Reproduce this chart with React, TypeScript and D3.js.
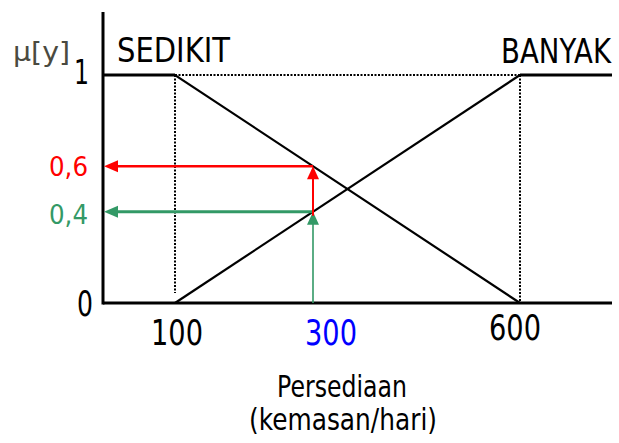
import React from "react";
import * as d3 from "d3";

const xTicks = [100, 300, 600];
const xTickLabels = ["100", "300", "600"];
const sedikitPts: [number, number][] = [[0, 1], [100, 1], [600, 0]];
const banyakPts: [number, number][] = [[100, 0], [600, 1], [730, 1]];
const inputX = 300;
const muSedikit = 0.6;
const muBanyak = 0.4;
const muLabels = ["0,6", "0,4"];

const W = 619, H = 443;
const FONT = "'DejaVu Sans', Verdana, sans-serif";

export default function App() {
  const x = d3.scaleLinear().domain([100, 600]).range([175, 520]);
  const y = d3.scaleLinear().domain([0, 1]).range([303, 75]);
  const axisX = 103;
  const axisRight = 612;
  const line = d3.line<[number, number]>().x(d => Math.max(axisX, Math.min(axisRight, x(d[0])))).y(d => y(d[1]));
  const red = "#ff0000";
  const green = "#339966";

  const arrowUp = (cx: number, cy: number) =>
    `M${cx},${cy} L${cx - 6},${cy + 13} L${cx + 6},${cy + 13} Z`;
  const arrowLeft = (cx: number, cy: number) =>
    `M${cx},${cy} L${cx + 14},${cy - 6} L${cx + 14},${cy + 6} Z`;

  const xi = x(inputX);
  const yr = y(muSedikit);
  const yg = y(muBanyak);

  return (
    <svg width={W} height={H} style={{ position: "absolute", left: 0, top: 0, background: "#fff" }}>
      <rect width={W} height={H} fill="#fff" />
      {/* dotted guides */}
      <line x1={x(100)} x2={x(600)} y1={y(1)} y2={y(1)} stroke="#000" strokeWidth={2} strokeDasharray="2,1.5" />
      <line x1={x(100)} x2={x(100)} y1={y(1)} y2={y(0) - 10} stroke="#000" strokeWidth={2} strokeDasharray="2,1.5" />
      <line x1={x(600)} x2={x(600)} y1={y(1)} y2={y(0)} stroke="#000" strokeWidth={2} strokeDasharray="2,1.5" />
      {/* membership */}
      <path d={line(sedikitPts) || ""} fill="none" stroke="#000" strokeWidth={2.2} />
      <path d={line([banyakPts[0], banyakPts[1]]) || ""} fill="none" stroke="#000" strokeWidth={2.2} />
      <line x1={x(100)} x2={axisX} y1={y(1)} y2={y(1)} stroke="#000" strokeWidth={3} />
      <line x1={x(600)} x2={axisRight} y1={y(1)} y2={y(1)} stroke="#000" strokeWidth={3} />
      {/* axes */}
      <line x1={axisX} x2={axisX} y1={12} y2={y(0) + 1.5} stroke="#000" strokeWidth={3} />
      <line x1={axisX} x2={axisRight} y1={y(0)} y2={y(0)} stroke="#000" strokeWidth={3} />
      {/* green */}
      <line x1={xi} x2={xi} y1={y(0)} y2={yg + 10} stroke={green} strokeWidth={1.6} />
      <path d={arrowUp(xi, yg)} fill={green} />
      <line x1={xi} x2={axisX + 12} y1={yg} y2={yg} stroke={green} strokeWidth={3} />
      <path d={arrowLeft(axisX + 1, yg)} fill={green} />
      {/* red */}
      <line x1={xi} x2={xi} y1={yg + 4} y2={yr + 10} stroke={red} strokeWidth={2} />
      <path d={arrowUp(xi, yr)} fill={red} />
      <line x1={xi} x2={axisX + 12} y1={yr} y2={yr} stroke={red} strokeWidth={2.5} />
      <path d={arrowLeft(axisX + 1, yr)} fill={red} />
      {/* texts */}
      <g fontFamily={FONT}>
        <text x={13} y={61} fontSize={27} fill="#4a4a40" textLength={57} lengthAdjust="spacingAndGlyphs">μ[y]</text>
        <text x={74} y={84} fontSize={34} fill="#000" textLength={15} lengthAdjust="spacingAndGlyphs">1</text>
        <text x={117} y={62} fontSize={34} fill="#000" textLength={113} lengthAdjust="spacingAndGlyphs">SEDIKIT</text>
        <g transform="translate(611,63) scale(1,1.3)">
          <text x={0} y={0} fontSize={26} fill="#000" textAnchor="end" textLength={110} lengthAdjust="spacingAndGlyphs">BANYAK</text>
        </g>
        <text x={49} y={yr + 10} fontSize={27} fill={red} textLength={39} lengthAdjust="spacingAndGlyphs">{muLabels[0]}</text>
        <text x={49} y={yg + 12} fontSize={27} fill={green} textLength={39} lengthAdjust="spacingAndGlyphs">{muLabels[1]}</text>
        <text x={77} y={316} fontSize={35} fill="#000" textLength={16} lengthAdjust="spacingAndGlyphs">0</text>
        {xTicks.map((t, i) => (
          <text key={t} x={t === 300 ? 331 : t === 600 ? 515 : 177} y={t === 600 ? 340 : 345} fontSize={35}
            fill={t === 300 ? "#0000ff" : "#000"} textAnchor="middle" textLength={52} lengthAdjust="spacingAndGlyphs">{xTickLabels[i]}</text>
        ))}
        <text x={342} y={397} fontSize={30} textAnchor="middle" fill="#000" textLength={130} lengthAdjust="spacingAndGlyphs">Persediaan</text>
        <text x={343} y={430} fontSize={30} textAnchor="middle" fill="#000" textLength={188} lengthAdjust="spacingAndGlyphs">(kemasan/hari)</text>
      </g>
    </svg>
  );
}
